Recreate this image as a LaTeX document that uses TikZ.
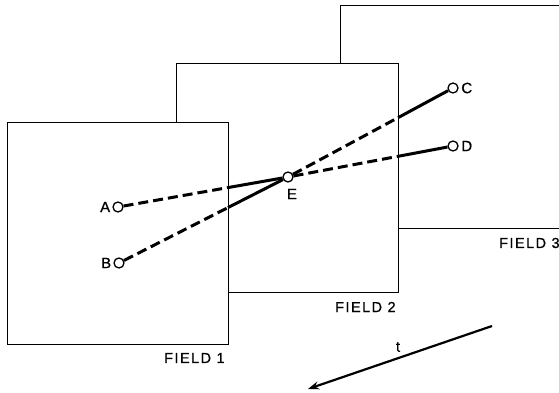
\documentclass[tikz,border=0pt]{standalone}
\usepackage{fontspec}
\setmainfont{Liberation Sans}[FakeBold=0.8]
\usetikzlibrary{arrows.meta,calc}
\begin{document}
\begin{tikzpicture}[x=1pt,y=-1pt,
  frame/.style={draw=black,line width=1pt,fill=white},
  pt/.style={circle,draw=black,fill=white,line width=1.3pt,minimum size=10pt,inner sep=0pt},
  conn/.style={line width=3pt},
  hidden/.style={conn,dash pattern=on 10pt off 5pt},
  lbl/.style={font=\fontsize{14.5}{17}\selectfont\addfontfeatures{LetterSpace=10},inner sep=0pt},
  ptlbl/.style={font=\fontsize{15}{17}\selectfont,inner sep=0pt}]
\useasboundingbox (0,0) rectangle (559,393);
% fields (back to front)
\draw[frame] (340,6) rectangle (600,228);
\draw[frame] (176,64) rectangle (398,292);
\draw[frame] (7,123) rectangle (228,344);
\coordinate (f1t) at (228,123);
\coordinate (f1b) at (228,344);
\coordinate (f2t) at (398,64);
\coordinate (f2b) at (398,292);
% labels
\node[lbl,anchor=west] (l1) at (164,358) {FIELD 1};
\node[lbl,anchor=west] (l2) at (335,307) {FIELD 2};
\node[lbl,anchor=west] (l3) at (499,243) {FIELD 3};
% points
\node[pt] (A) at (118,207) {};
\node[pt] (B) at (119,263) {};
\node[pt] (C) at (453,88) {};
\node[pt] (D) at (453,146) {};
\node[pt] (E) at (288,177) {};
\node[ptlbl,anchor=east] (tA) at ([xshift=-2pt]A.west) {A};
\node[ptlbl,anchor=east] (tB) at ([xshift=-2pt]B.west) {B};
\node[ptlbl,anchor=west] (tC) at ([xshift=2.5pt]C.east) {C};
\node[ptlbl,anchor=west] (tD) at ([xshift=2.5pt]D.east) {D};
\node[ptlbl] (tE) at (292,194) {E};
% intersections with field edges
\coordinate (pA) at (intersection of A--E and f1t--f1b);
\coordinate (pB) at (intersection of B--E and f1t--f1b);
\coordinate (pC) at (intersection of E--C and f2t--f2b);
\coordinate (pD) at (intersection of E--D and f2t--f2b);
% connectors
\draw[hidden] (A) -- (pA);
\draw[conn] (pA) -- (E);
\draw[hidden] (B) -- (pB);
\draw[conn] (pB) -- (E);
\draw[hidden] (E) -- (pC);
\draw[conn] (pC) -- (C);
\draw[hidden] (E) -- (pD);
\draw[conn] (pD) -- (D);
% time arrow
\coordinate (t0) at (492,326);
\coordinate (t1) at (308,389);
\draw[line width=2.2pt,-{Stealth[length=11pt,width=8pt]}] (t0) -- (t1);
\node[ptlbl] (tt) at (398,347) {t};
\end{tikzpicture}
\end{document}
